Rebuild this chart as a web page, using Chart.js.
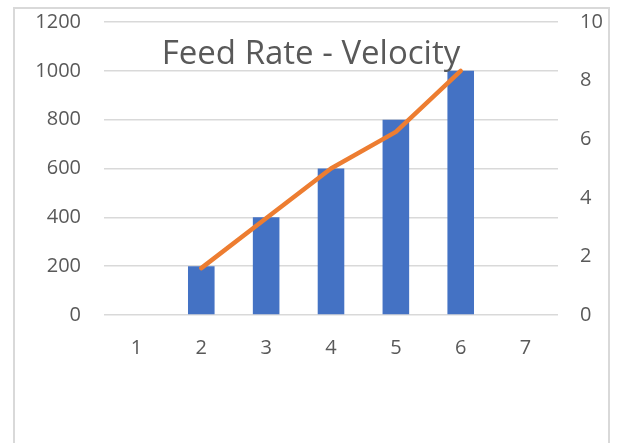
<!DOCTYPE html>
<html>
<head>
<meta charset="utf-8">
<script src="https://cdn.jsdelivr.net/npm/chart.js@4/dist/chart.umd.min.js"></script>
<style>
  html, body { margin: 0; padding: 0; background: #fff; }
  #wrap { position: relative; width: 618px; height: 443px; overflow: hidden; }
  #frame {
    position: absolute; left: 13px; top: 7px; width: 593px; height: 460px;
    border: 2px solid #d9d9d9; pointer-events: none;
  }
  #title {
    position: absolute; left: 0; top: 35px; width: 622px; text-align: center;
    font-family: 'Open Sans', sans-serif; font-size: 33px; line-height: 1;
    color: #595959; pointer-events: none;
  }
  canvas { position: absolute; left: 0; top: 0; }
</style>
</head>
<body>
<div id="wrap">
  <canvas id="chart" width="618" height="443"></canvas>
  <div id="frame"></div>
  <div id="title">Feed Rate - Velocity</div>
</div>
<script>
  // 데이터
  const categories = ['1', '2', '3', '4', '5', '6', '7'];
  const feedRate = [null, 200, 400, 600, 800, 1000, null];
  const velocity = [null, 1.6, 3.3, 5.0, 6.25, 8.33, null];
  const leftTicks = { min: 0, max: 1200, step: 200 };
  const rightTicks = { min: 0, max: 10, step: 2 };

  const COLORS = {
    bar: '#4472c4',
    line: '#ed7d31',
    grid: '#d9d9d9',
    text: '#595959'
  };
  const tickFont = { family: "'Open Sans', sans-serif", size: 20 };
  const plain = (v) => String(v);

  // 축 너비 고정, 라벨 여백 제거
  const fixWidth = (w) => (s) => {
    s.width = w;
    s.paddingTop = 0;
    s.paddingBottom = 0;
  };

  new Chart(document.getElementById('chart').getContext('2d'), {
    type: 'bar',
    data: {
      labels: categories,
      datasets: [
        {
          type: 'line',
          label: 'Velocity',
          data: velocity,
          yAxisID: 'y1',
          borderColor: COLORS.line,
          borderWidth: 4.5,
          borderCapStyle: 'round',
          borderJoinStyle: 'round',
          pointRadius: 0,
          tension: 0,
          order: 0
        },
        {
          label: 'Feed Rate',
          data: feedRate,
          yAxisID: 'y',
          backgroundColor: COLORS.bar,
          barPercentage: 0.41,
          categoryPercentage: 1,
          order: 1
        }
      ]
    },
    options: {
      responsive: false,
      animation: false,
      layout: { padding: { left: 14, right: 0, top: 22, bottom: 0 } },
      plugins: {
        legend: { display: false },
        title: { display: false },
        tooltip: { enabled: false }
      },
      scales: {
        x: {
          grid: { display: false, drawTicks: false },
          border: { display: false },
          ticks: { font: tickFont, color: COLORS.text, padding: 21, maxRotation: 0 },
          afterFit: (s) => { s.height = 128; s.paddingLeft = 0; s.paddingRight = 0; }
        },
        y: {
          position: 'left',
          min: leftTicks.min,
          max: leftTicks.max,
          grid: { color: COLORS.grid, lineWidth: 1.5, drawTicks: false },
          border: { display: false },
          ticks: { stepSize: leftTicks.step, font: tickFont, color: COLORS.text, padding: 23, callback: plain },
          afterFit: fixWidth(90)
        },
        y1: {
          position: 'right',
          min: rightTicks.min,
          max: rightTicks.max,
          grid: { display: false, drawTicks: false },
          border: { display: false },
          ticks: { stepSize: rightTicks.step, font: tickFont, color: COLORS.text, padding: 22, callback: plain },
          afterFit: fixWidth(60)
        }
      }
    }
  });
</script>
</body>
</html>
